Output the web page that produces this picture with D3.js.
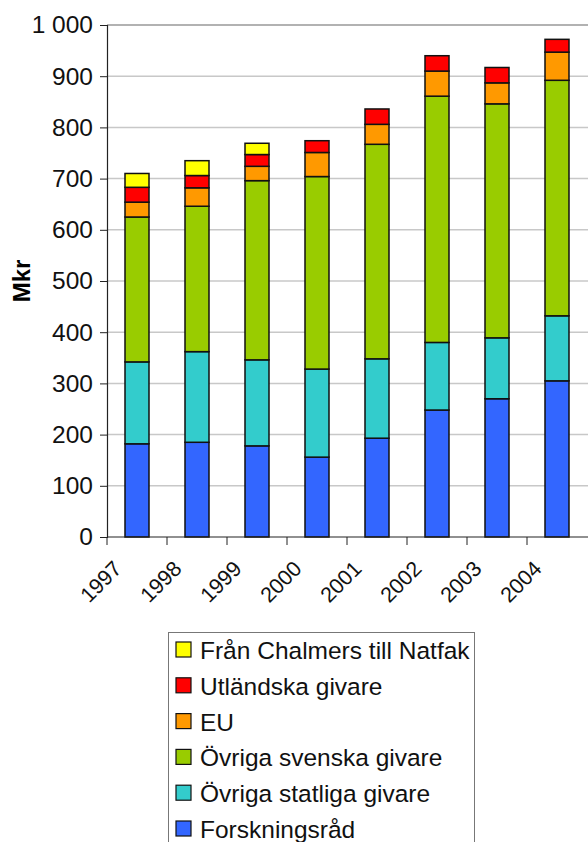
<!DOCTYPE html>
<html><head><meta charset="utf-8">
<script src="https://cdn.jsdelivr.net/npm/d3@7"></script>
<style>body{margin:0;background:#fff}svg{display:block}text{font-family:"Liberation Sans",Arial,sans-serif}</style>
</head><body><svg id="c" width="588" height="842"></svg>
<script>
const years = ["1997","1998","1999","2000","2001","2002","2003","2004"];
const seriesNames = ["Forskningsråd","Övriga statliga givare","Övriga svenska givare","EU","Utländska givare","Från Chalmers till Natfak"];
const forskningsrad = [182,185,178,156,193,248,270,305];
const ovrigaStatliga = [160,177,168,172,155,132,119,127];
const ovrigaSvenska = [283,284,350,376,419,481,457,460];
const eu = [29,36,28,47,39,49,41,55];
const utlandska = [29,24,23,23,30,30,30,25];
const franChalmers = [27,29,22,0,0,0,0,0];
const colors = ["#3366FF","#33CCCC","#99CC00","#FF9900","#FF0000","#FFFF00"];
const yTicks = [0,100,200,300,400,500,600,700,800,900,1000];

const seriesValues = [forskningsrad,ovrigaStatliga,ovrigaSvenska,eu,utlandska,franChalmers];
const table = years.map((y,i)=>{const o={year:y};seriesNames.forEach((s,j)=>o[s]=seriesValues[j][i]);return o;});
const stacked = d3.stack().keys(seriesNames)(table);

const svg = d3.select("#c");
const x0 = 107, x1 = 587, yTop = 25, yBot = 537;
const x = d3.scaleBand().domain(years).range([x0,x1]).paddingInner(0.6).paddingOuter(0.3);
const y = d3.scaleLinear().domain([0,1000]).range([yBot,yTop]);
const fmt = v => v===1000 ? "1 000" : String(v);

// gridlines
svg.append("g").selectAll("line").data(yTicks.filter(v=>v>0)).join("line")
  .attr("x1",x0).attr("x2",588).attr("y1",d=>y(d)).attr("y2",d=>y(d))
  .attr("stroke",d=>d===1000?"#999":"#c8c8c8").attr("stroke-width",1.5);

// bars
svg.append("g").selectAll("g").data(stacked).join("g")
  .attr("fill",(d,i)=>colors[i])
  .selectAll("rect").data(d=>d.filter(p=>p[1]-p[0]>0)).join("rect")
  .attr("x",d=>x(d.data.year)).attr("width",x.bandwidth())
  .attr("y",d=>y(d[1])).attr("height",d=>y(d[0])-y(d[1]))
  .attr("stroke","#111").attr("stroke-width",1.5);

// y axis
const ya = svg.append("g").attr("transform",`translate(${x0},0)`)
  .call(d3.axisLeft(y).tickValues(yTicks).tickFormat(fmt).tickSize(7).tickPadding(7));
ya.select(".domain").attr("stroke","#222").attr("stroke-width",1.2);
ya.selectAll(".tick line").attr("stroke","#222");
ya.selectAll("text").attr("font-size",24.5).attr("fill","#111").attr("font-family","Liberation Sans, Arial, sans-serif");

// x axis
const xa = svg.append("g").attr("transform",`translate(0,${yBot})`);
xa.append("line").attr("x1",x0).attr("x2",588).attr("y1",0).attr("y2",0).attr("stroke","#222").attr("stroke-width",1.2);
const step = x.step();
const bounds = years.map((d,i)=>x0+i*step);
xa.selectAll("line.t").data(bounds).join("line").attr("class","t")
  .attr("x1",d=>d).attr("x2",d=>d).attr("y1",0).attr("y2",8).attr("stroke","#222");
xa.selectAll("text").data(years).join("text")
  .attr("transform",d=>`translate(${x(d)+x.bandwidth()/2-14},${33}) rotate(-45)`)
  .attr("text-anchor","end").attr("font-size",21.5).attr("fill","#111").text(d=>d);

// y label
svg.append("text").attr("transform","translate(30,281) rotate(-90)")
  .attr("text-anchor","middle").attr("font-size",24).attr("font-weight","bold").text("Mkr");

// legend
const lg = svg.append("g");
lg.append("rect").attr("x",168.5).attr("y",632.5).attr("width",306).attr("height",230)
  .attr("fill","#fff").attr("stroke","#777").attr("stroke-width",1);
const legOrder = seriesNames.slice().reverse();
const legColors = colors.slice().reverse();
const items = lg.selectAll("g.it").data(legOrder).join("g").attr("class","it")
  .attr("transform",(d,i)=>`translate(176,${642+i*35.8})`);
items.append("rect").attr("width",15).attr("height",15).attr("fill",(d,i)=>legColors[i]).attr("stroke","#111").attr("stroke-width",1.2);
items.append("text").attr("x",24).attr("y",17).attr("font-size",24.5).attr("fill","#111").text(d=>d);
</script></body></html>
